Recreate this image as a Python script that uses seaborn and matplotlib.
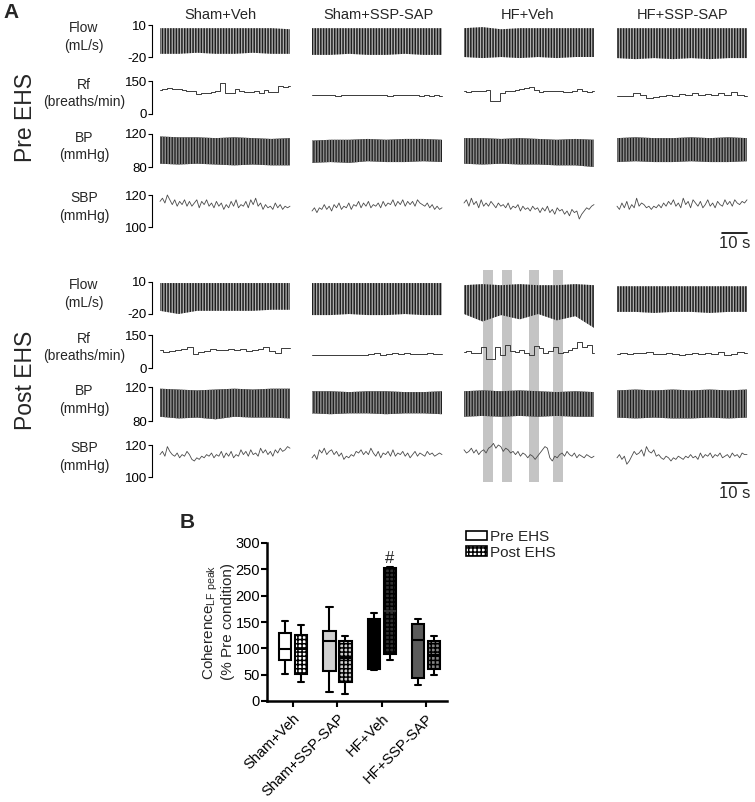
import numpy as np
import pandas as pd
import matplotlib
matplotlib.use("Agg")
import matplotlib.pyplot as plt
import seaborn as sns
from matplotlib.patches import Patch

sns.set_theme(style="ticks")
plt.rcParams['font.family'] = ['Liberation Sans', 'DejaVu Sans']
plt.rcParams['axes.unicode_minus'] = False
plt.rcParams['mathtext.fontset'] = 'custom'
plt.rcParams['mathtext.rm'] = 'Liberation Sans'
plt.rcParams['mathtext.it'] = 'Liberation Sans:italic'
plt.rcParams['hatch.linewidth'] = 1.1

# ---------------- data ----------------
groups = ["Sham+Veh", "Sham+SSP-SAP", "HF+Veh", "HF+SSP-SAP"]
conds = ["Pre EHS", "Post EHS"]

# Panel A traces
pre_flow_top = [[7, 7, 7, 7, 7, 7, 7, 6], [7, 7, 7, 7, 7, 7, 7, 7],
                [7, 8, 6, 7, 7, 7, 7, 7], [7, 7, 7, 7, 7, 7, 7, 7]]
pre_flow_bot = [[-17, -17, -16, -17, -17, -16, -17, -17], [-18, -18, -17, -18, -18, -17, -18, -18],
                [-20, -21, -20, -21, -20, -21, -20, -20], [-21, -22, -21, -22, -21, -22, -21, -21]]
post_flow_top = [[9, 9, 9, 9, 9, 9, 9, 9], [9, 9, 9, 9, 9, 9, 9, 9],
                 [7, 8, 7, 8, 7, 7, 8, 7], [6, 6, 6, 6, 6, 6, 6, 6]]
post_flow_bot = [[-17, -20, -17, -17, -17, -17, -16, -16], [-21, -21, -20, -21, -21, -20, -21, -21],
                 [-20, -27, -21, -25, -20, -26, -22, -33], [-18, -18, -19, -18, -18, -19, -18, -18]]

pre_rf = [[109, 113, 116, 113, 112, 109, 106, 104, 91, 94, 97, 98, 106, 143, 94, 97, 112, 106, 101, 98, 106, 97, 109, 98, 101, 127, 124, 127],
          [86, 85, 87, 85, 86, 84, 86, 85, 87, 85, 86, 88, 85, 87, 86, 84, 86, 88, 86, 85, 87, 84, 86, 83, 85, 82],
          [105, 102, 106, 103, 106, 109, 61, 61, 97, 103, 106, 109, 112, 117, 121, 109, 102, 106, 105, 106, 103, 102, 100, 105, 112, 103, 102, 105],
          [82, 82, 82, 94, 86, 71, 79, 82, 86, 82, 91, 86, 94, 85, 91, 88, 94, 86, 102, 86, 82]]
post_rf = [[82, 74, 79, 82, 85, 97, 62, 74, 79, 85, 82, 82, 85, 82, 85, 79, 82, 85, 97, 79, 70, 89, 89],
           [61, 60, 61, 60, 59, 60, 59, 61, 60, 59, 62, 67, 60, 65, 70, 64, 68, 62, 65, 63, 66, 64, 62],
           [74, 79, 67, 70, 97, 39, 39, 97, 59, 105, 79, 74, 82, 70, 59, 100, 89, 67, 79, 97, 67, 74, 82, 89, 120, 97, 105, 67],
           [64, 67, 62, 70, 67, 74, 64, 62, 67, 64, 61, 65, 68, 64, 67, 62, 71, 61, 64, 74, 67]]

pre_bp_top = [[117, 116, 116, 115, 116, 115, 114, 115], [112, 113, 113, 114, 113, 114, 114, 113],
              [115, 115, 114, 115, 114, 113, 114, 113], [115, 116, 115, 115, 116, 115, 116, 115]]
pre_bp_bot = [[84, 83, 84, 83, 82, 83, 82, 82], [85, 86, 85, 87, 86, 86, 87, 86],
              [84, 83, 84, 83, 83, 82, 82, 80], [86, 87, 86, 86, 87, 86, 86, 87]]
post_bp_top = [[118, 117, 116, 117, 118, 117, 118, 118], [115, 115, 114, 115, 115, 114, 114, 115],
               [115, 116, 115, 116, 115, 114, 115, 114], [116, 117, 116, 117, 116, 117, 116, 117]]
post_bp_bot = [[85, 83, 84, 82, 85, 84, 84, 83], [89, 88, 89, 89, 88, 89, 89, 88],
               [85, 86, 85, 86, 85, 86, 85, 85], [84, 83, 84, 83, 83, 84, 83, 84]]

pre_sbp = [[116, 118, 115, 120, 117, 114, 117, 113, 116, 114, 117, 113, 116, 113, 115, 117, 112, 116, 114, 117, 113, 115, 112, 116, 113, 115, 111, 114, 112, 116, 113, 117, 112, 114, 113, 116, 112, 117, 114, 118, 113, 115, 111, 114, 112, 113, 111, 115, 112, 114, 111, 113, 112, 113],
           [110, 112, 109, 112, 111, 114, 111, 113, 110, 114, 112, 115, 111, 113, 112, 115, 111, 114, 113, 116, 112, 115, 113, 116, 112, 114, 113, 115, 112, 116, 113, 115, 114, 117, 113, 116, 114, 117, 113, 116, 114, 116, 113, 117, 115, 114, 113, 115, 112, 114, 111, 113, 111, 112],
           [115, 117, 113, 118, 114, 116, 112, 117, 113, 115, 113, 116, 114, 112, 115, 113, 114, 112, 115, 111, 113, 112, 114, 110, 113, 111, 112, 110, 113, 111, 112, 109, 112, 110, 113, 109, 111, 108, 112, 110, 111, 108, 110, 107, 111, 109, 110, 105, 108, 110, 112, 111, 113, 114],
           [113, 111, 115, 112, 116, 111, 114, 112, 118, 113, 115, 114, 112, 113, 111, 113, 112, 114, 112, 115, 113, 116, 114, 117, 113, 115, 112, 118, 114, 116, 112, 117, 115, 113, 116, 112, 114, 117, 113, 115, 112, 116, 114, 113, 117, 114, 116, 113, 117, 115, 114, 116, 115, 117]]
post_sbp = [[114, 116, 113, 119, 116, 114, 113, 115, 112, 114, 113, 116, 114, 111, 110, 112, 111, 113, 112, 114, 113, 115, 112, 114, 113, 116, 112, 115, 113, 116, 112, 114, 113, 117, 114, 116, 113, 117, 114, 115, 113, 118, 115, 117, 114, 116, 113, 117, 115, 118, 116, 117, 119, 118],
            [112, 114, 111, 117, 115, 118, 114, 116, 117, 114, 116, 113, 115, 111, 113, 112, 114, 113, 116, 115, 117, 114, 116, 114, 118, 115, 113, 116, 112, 115, 114, 116, 113, 117, 113, 115, 114, 116, 113, 115, 112, 114, 116, 113, 115, 114, 113, 116, 114, 115, 113, 114, 115, 114],
            [117, 115, 116, 118, 115, 117, 114, 116, 117, 115, 118, 119, 121, 118, 120, 119, 116, 118, 117, 115, 116, 114, 116, 113, 115, 114, 112, 114, 113, 111, 113, 115, 117, 119, 118, 112, 110, 113, 112, 114, 115, 113, 116, 114, 113, 115, 112, 114, 113, 112, 114, 113, 112, 113],
            [112, 114, 111, 113, 108, 110, 113, 116, 114, 115, 117, 113, 119, 116, 115, 117, 113, 114, 112, 111, 113, 112, 110, 112, 111, 113, 112, 111, 113, 112, 114, 112, 113, 111, 115, 112, 114, 113, 115, 112, 114, 113, 115, 112, 113, 114, 112, 115, 113, 114, 112, 115, 114, 114]]

trace_seconds = 52
highlight_start = [7.7, 15.3, 25.8, 35.5]   # seconds, HF+Veh post EHS
highlight_len = 4.0

# Panel B box stats: [low whisker, Q1, median, Q3, high whisker]
pre_box = [[51, 78, 98, 130, 152], [18, 57, 113, 133, 178], [59, 60, 110, 155, 168], [30, 43, 116, 146, 155]]
post_box = [[37, 52, 98, 125, 144], [13, 37, 81, 113, 124], [78, 89, 170, 252, 254], [49, 60, 87, 114, 124]]
pre_face = ["white", "#d0d0d0", "black", "#5a5a5a"]
post_face = ["white", "#d0d0d0", "#303030", "#858585"]

# ---------------- figure ----------------
W, H = 755, 802
fig = plt.figure(figsize=(W / 100, H / 100), dpi=100)


def rect(x0, y0, x1, y1):
    return [x0 / W, 1 - y1 / H, (x1 - x0) / W, (y1 - y0) / H]


col_x = [160, 312, 464, 617]
col_w = 130
pre_rows = [(25, 57), (81, 114), (134, 167), (195, 227)]
post_rows = [(282, 314), (335, 368), (387, 421), (445, 477)]
row_lims = [(-20, 10), (0, 150), (80, 120), (100, 120)]
row_ticklabels = [("-20", "10"), ("0", "150"), ("80", "120"), ("100", "120")]
row_names = ["Flow\n(mL/s)", "Rf\n(breaths/min)", "BP\n(mmHg)", "SBP\n(mmHg)"]

# highlight bars (behind traces)
axh = fig.add_axes(rect(col_x[2], 270, col_x[2] + col_w, 482))
axh.set_xlim(0, trace_seconds)
axh.set_ylim(0, 1)
for s in highlight_start:
    axh.axvspan(s, s + highlight_len, color="#c4c4c4", lw=0)
axh.axis("off")


def draw_block(rows, flow_top, flow_bot, rf, bp_top, bp_bot, sbp, scale_y):
    axes_last = None
    for r, (y0, y1) in enumerate(rows):
        for c in range(4):
            ax = fig.add_axes(rect(col_x[c], y0, col_x[c] + col_w, y1))
            ax.patch.set_alpha(0)
            ax.set_xlim(0, trace_seconds)
            ax.set_ylim(*row_lims[r])
            for sp in ["top", "right", "bottom"]:
                ax.spines[sp].set_visible(False)
            ax.set_xticks([])
            if r == 0:
                t = np.linspace(0, trace_seconds, len(flow_top[c]))
                ax.fill_between(t, flow_bot[c], flow_top[c], facecolor="#b4b4b4",
                                edgecolor="#1e1e1e", hatch="||||||", linewidth=0, clip_on=False)
            elif r == 1:
                t = np.linspace(0, trace_seconds, len(rf[c]))
                ax.plot(t, rf[c], drawstyle="steps-mid", color="#3a3a3a", lw=0.7, clip_on=False)
            elif r == 2:
                t = np.linspace(0, trace_seconds, len(bp_top[c]))
                ax.fill_between(t, bp_bot[c], bp_top[c], facecolor="#1c1c1c",
                                edgecolor="#8a8a8a", hatch="||||||", linewidth=0, clip_on=False)
            else:
                t = np.linspace(0, trace_seconds, len(sbp[c]))
                ax.plot(t, sbp[c], color="#4a4a4a", lw=0.6, clip_on=False)
            if c == 0:
                ax.spines["left"].set_position(("outward", 6))
                ax.spines["left"].set_linewidth(0.8)
                ax.spines["left"].set_color("black")
                ax.set_yticks(row_lims[r])
                ax.set_yticklabels(row_ticklabels[r])
                ax.tick_params(axis="y", length=3, width=0.8, pad=0.5, labelsize=9.5, colors="black")
                ymid = (y0 + y1) / 2 - 4
                fig.text(84 / W, 1 - ymid / H, row_names[r], ha="center", va="center",
                         fontsize=10, linespacing=1.3)
            else:
                ax.spines["left"].set_visible(False)
                ax.set_yticks([])
            axes_last = ax
    # scale bar under the last column
    ax = axes_last
    ax.plot([trace_seconds - 10, trace_seconds], [scale_y, scale_y], color="black", lw=1.2,
            transform=ax.get_xaxis_transform(), clip_on=False)
    ax.text(trace_seconds - 5, scale_y - 0.08, "10 s", transform=ax.get_xaxis_transform(),
            ha="center", va="top", fontsize=12)


draw_block(pre_rows, pre_flow_top, pre_flow_bot, pre_rf, pre_bp_top, pre_bp_bot, pre_sbp, -0.19)
draw_block(post_rows, post_flow_top, post_flow_bot, post_rf, post_bp_top, post_bp_bot, post_sbp, -0.19)

title_x = [220, 378, 528, 683]
for g, x in zip(groups, title_x):
    fig.text(x / W, 1 - 15 / H, g, ha="center", va="center", fontsize=10.5)

fig.text(25 / W, 1 - 117 / H, "Pre EHS", rotation=90, ha="center", va="center", fontsize=16.5)
fig.text(25 / W, 1 - 380 / H, "Post EHS", rotation=90, ha="center", va="center", fontsize=16.5)
fig.text(3 / W, 1 - 12 / H, "A", ha="left", va="center", fontsize=15, fontweight="bold")
fig.text(180 / W, 1 - 522 / H, "B", ha="left", va="center", fontsize=15, fontweight="bold")

# ---------------- Panel B ----------------
rows = []
for g, pv, qv in zip(groups, pre_box, post_box):
    for v in pv:
        rows.append((g, conds[0], v))
    for v in qv:
        rows.append((g, conds[1], v))
df = pd.DataFrame(rows, columns=["group", "cond", "value"])

axb = fig.add_axes(rect(267, 543, 447, 701))
sns.boxplot(data=df, x="group", y="value", hue="cond", order=groups, hue_order=conds,
            width=0.72, gap=0.23, linewidth=1.5, linecolor="black", whis=1.5,
            showfliers=False, dodge=True, legend=False, ax=axb)

# seaborn draws all Pre boxes first, then all Post boxes
faces = [(f, None) for f in pre_face] + [(f, "++++") for f in post_face]
for p, (fc, h) in zip(axb.patches, faces):
    p.set_facecolor(fc)
    p.set_edgecolor("black")
    p.set_linewidth(1.5)
    if h:
        p.set_hatch(h)

# median of the dark hatched HF+Veh box is not visible in the original
for ln in axb.lines:
    yd = np.asarray(ln.get_ydata(), dtype=float)
    xd = np.asarray(ln.get_xdata(), dtype=float)
    if len(yd) == 2 and yd[0] == yd[1] == post_box[2][2] and xd.mean() > 2:
        ln.set_color(post_face[2])

axb.set_xlim(-0.587, 3.47)
axb.set_ylim(0, 300)
axb.set_yticks(np.arange(0, 301, 50))
axb.set_xlabel("")
axb.set_ylabel("Coherence$_{\\mathrm{LF\\ peak}}$\n(% Pre condition)", fontsize=11, labelpad=0,
               linespacing=1.1)
axb.set_xticks(range(len(groups)))
axb.set_xticklabels(groups, rotation=45, ha="right", rotation_mode="anchor", fontsize=10.5)
axb.tick_params(axis="both", length=4, width=1.5, colors="black", labelsize=10.5)
axb.tick_params(axis="y", pad=1)
for sp in ["top", "right"]:
    axb.spines[sp].set_visible(False)
for sp in ["left", "bottom"]:
    axb.spines[sp].set_linewidth(1.8)
    axb.spines[sp].set_color("black")

axb.text(2 + 0.18, post_box[2][-1] + 2, "#", ha="center", va="bottom", fontsize=12)

handles = [Patch(facecolor="white", edgecolor="black", lw=1.2, label=conds[0]),
           Patch(facecolor="white", edgecolor="black", lw=1.2, hatch="++++", label=conds[1])]
fig.legend(handles=handles, loc="upper left", bbox_to_anchor=(466 / W, 1 - 530 / H),
           frameon=False, fontsize=11, handlelength=1.4, handleheight=0.6,
           handletextpad=0.2, labelspacing=0.1, borderpad=0, borderaxespad=0)

fig.savefig("out.png", dpi=100, facecolor="white")
